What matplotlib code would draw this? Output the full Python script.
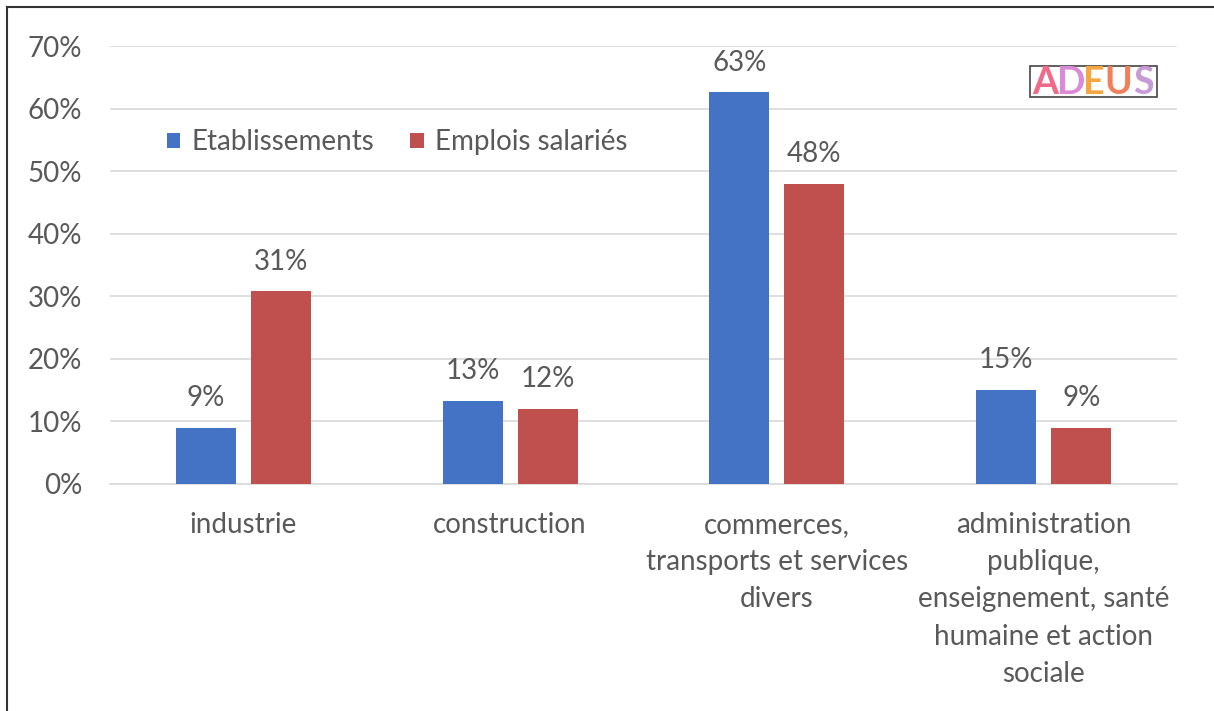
import numpy as np
import matplotlib
matplotlib.use('Agg')
import matplotlib.pyplot as plt
from matplotlib.lines import Line2D

categories = ["industrie", "construction",
              "commerces,\ntransports et services\ndivers",
              "administration\npublique,\nenseignement, santé\nhumaine et action\nsociale"]
etablissements = [9, 13.3, 62.6, 15]
emplois = [30.8, 12, 48, 9]
yticks = [0, 10, 20, 30, 40, 50, 60, 70]

blue = '#4472C4'
red = '#C0504D'
grey = '#595959'
fs = 20

plt.rcParams['font.family'] = ['Lato', 'DejaVu Sans']

fig = plt.figure(figsize=(12.14, 7.11), dpi=100)
ax = fig.add_axes([0.0906, 0.3193, 0.879, 0.616])

x = np.arange(len(categories))
w = 0.225
off = (w + 0.056) / 2
b1 = ax.bar(x - off, etablissements, w, color=blue, label='Etablissements', zorder=3)
b2 = ax.bar(x + off, emplois, w, color=red, label='Emplois salariés', zorder=3)

for bars in (b1, b2):
    for r in bars:
        h = r.get_height()
        ax.annotate('%d%%' % round(h), (r.get_x() + r.get_width() / 2, h),
                    xytext=(0, 12), textcoords='offset points',
                    ha='center', va='bottom', fontsize=fs, color=grey)

ax.set_xlim(-0.5, 3.5)
ax.set_ylim(0, 70)
ax.set_yticks(yticks)
ax.set_yticklabels(['%d%%' % t for t in yticks])
ax.set_xticks(x)
ax.set_xticklabels(categories, linespacing=1.54)
ax.tick_params(axis='both', length=0, labelsize=fs, colors=grey)
ax.tick_params(axis='y', pad=20)
ax.tick_params(axis='x', pad=20)
ax.grid(axis='y', color='#D9D9D9', linewidth=1.2, zorder=0)
for s in ['top', 'right', 'left']:
    ax.spines[s].set_visible(False)
ax.spines['bottom'].set_color('#D9D9D9')
ax.spines['bottom'].set_linewidth(1.2)

ax.legend(loc='center left', bbox_to_anchor=(0.053, 0.78), ncol=2, frameon=False,
          fontsize=fs, labelcolor=grey, handlelength=0.5, handleheight=0.5,
          handletextpad=0.4, columnspacing=1.3, borderpad=0, borderaxespad=0)

# logo ADEUS
fig.patches.append(plt.Rectangle((1030 / 1214, 1 - 97 / 711), 127 / 1214, 31 / 711,
                                 transform=fig.transFigure, fill=False,
                                 edgecolor='#444444', linewidth=1.2))
letters = ['A', 'D', 'E', 'U', 'S']
lcols = ['#F06A8A', '#D98AD9', '#F5A640', '#F07F5A', '#C89AD8']
lx = [1045, 1071, 1094, 1118, 1143]
for l, c, xx in zip(letters, lcols, lx):
    fig.text(xx / 1214, 1 - 83 / 711, l, color=c, fontsize=27, fontweight='bold',
             ha='center', va='center')

# cadre (haut et gauche)
fig.add_artist(Line2D([7 / 1214, 1], [1 - 7 / 711, 1 - 7 / 711],
                      transform=fig.transFigure, color='#333333', linewidth=1.5))
fig.add_artist(Line2D([7 / 1214, 7 / 1214], [0, 1 - 7 / 711],
                      transform=fig.transFigure, color='#333333', linewidth=1.5))

fig.savefig('out.png', dpi=100)
